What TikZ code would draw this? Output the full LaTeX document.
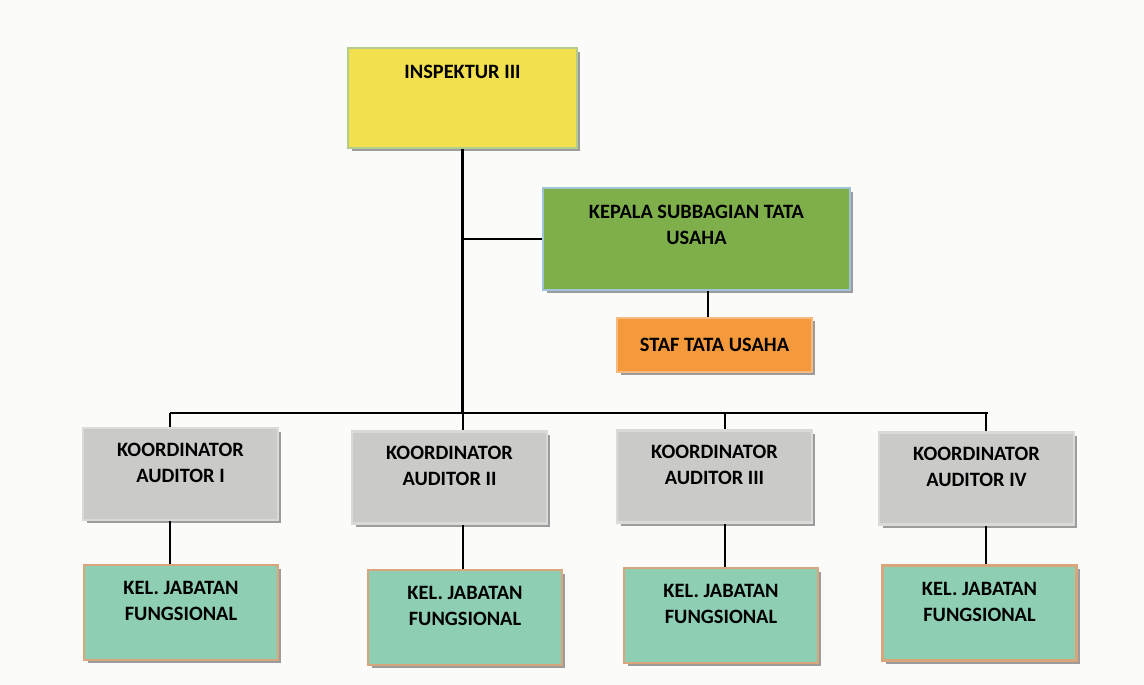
\documentclass[tikz,border=0pt]{standalone}
\usepackage{fontspec}
\setmainfont{Carlito}
\usetikzlibrary{calc}
\usetikzlibrary{shadows}
\definecolor{bgcol}{HTML}{FBFBF9}
\definecolor{kuning}{HTML}{F3E04E}
\definecolor{kuningline}{HTML}{B3CD8C}
\definecolor{hijau}{HTML}{7FAF4B}
\definecolor{hijauline}{HTML}{9FC4DA}
\definecolor{oranye}{HTML}{F49A3C}
\definecolor{oranyeline}{HTML}{F7BA7E}
\definecolor{abu}{HTML}{CACAC8}
\definecolor{abuline}{HTML}{DADAD8}
\definecolor{tosca}{HTML}{8ECFB4}
\definecolor{toscaline}{HTML}{D9A67C}
\definecolor{bayang}{HTML}{9C9C9C}
\tikzset{
  orgbox/.style={rectangle, line width=1.6pt, inner sep=0pt,
    drop shadow={shadow xshift=0.07cm, shadow yshift=-0.07cm, fill=bayang, opacity=1}},
  txt/.style={inner sep=0pt, align=center, font=\fontsize{11.6}{14.8}\selectfont\bfseries},
  koord/.style={orgbox, fill=abu, draw=abuline, minimum width=3.9cm, minimum height=1.84cm},
  kel/.style={orgbox, fill=tosca, draw=toscaline, minimum width=3.88cm, minimum height=1.9cm},
  garis/.style={black, line width=1.3pt}
}

\begin{document}
\begin{tikzpicture}[x=0.02cm, y=-0.02cm]
\fill[bgcol] (0,0) rectangle (1144,685);
\useasboundingbox (0,0) rectangle (1144,685);

% pimpinan
\node[orgbox, fill=kuning, draw=kuningline, minimum width=4.58cm, minimum height=2cm,
  label={[txt, anchor=north, yshift=-0.37cm]north:INSPEKTUR III}] (insp) at (462.5,98) {};
\node[orgbox, fill=hijau, draw=hijauline, minimum width=6.14cm, minimum height=2.04cm,
  label={[txt, anchor=north, yshift=-0.37cm]north:KEPALA SUBBAGIAN TATA\\USAHA}] (kep) at (696.5,239) {};
\node[orgbox, fill=oranye, draw=oranyeline, minimum width=3.9cm, minimum height=1.08cm,
  font=\fontsize{11.6}{14.8}\selectfont\bfseries] (staf) at (714.5,345) {STAF TATA USAHA};

% koordinator
\node[koord, label={[txt, anchor=north, yshift=-0.32cm]north:KOORDINATOR\\AUDITOR I}] (k1) at (180.5,474) {};
\node[koord, label={[txt, anchor=north, yshift=-0.32cm]north:KOORDINATOR\\AUDITOR II}] (k2) at (449.5,477.5) {};
\node[koord, label={[txt, anchor=north, yshift=-0.32cm]north:KOORDINATOR\\AUDITOR III}] (k3) at (714.5,476.5) {};
\node[koord, label={[txt, anchor=north, yshift=-0.32cm]north:KOORDINATOR\\AUDITOR IV}] (k4) at (976.5,478.5) {};

% kelompok jabatan fungsional
\node[kel, label={[txt, anchor=north, yshift=-0.35cm]north:KEL. JABATAN\\FUNGSIONAL}] (f1) at (181,612.5) {};
\node[kel, label={[txt, anchor=north, yshift=-0.35cm]north:KEL. JABATAN\\FUNGSIONAL}] (f2) at (465,617.5) {};
\node[kel, label={[txt, anchor=north, yshift=-0.35cm]north:KEL. JABATAN\\FUNGSIONAL}] (f3) at (721,615.5) {};
\node[kel, label={[txt, anchor=north, yshift=-0.35cm]north:KEL. JABATAN\\FUNGSIONAL}] (f4) at (979.5,613) {};

% garis
\coordinate (bus) at (462.5,413);
\draw[garis] (insp.south) -- (bus);
\draw[garis] (insp.south |- kep.west) -- (kep.west);
\draw[garis] (kep.south -| 708,0) -- (staf.north -| 708,0);
\draw[garis] (bus -| 170,0) -- (bus -| 988,0);
\foreach \k/\f/\x in {k1/f1/170, k2/f2/463, k3/f3/725, k4/f4/986} {
  \draw[garis] (bus -| \x,0) -- (\k.north -| \x,0);
  \draw[garis] (\k.south -| \x,0) -- (\f.north -| \x,0);
}
\end{tikzpicture}
\end{document}
